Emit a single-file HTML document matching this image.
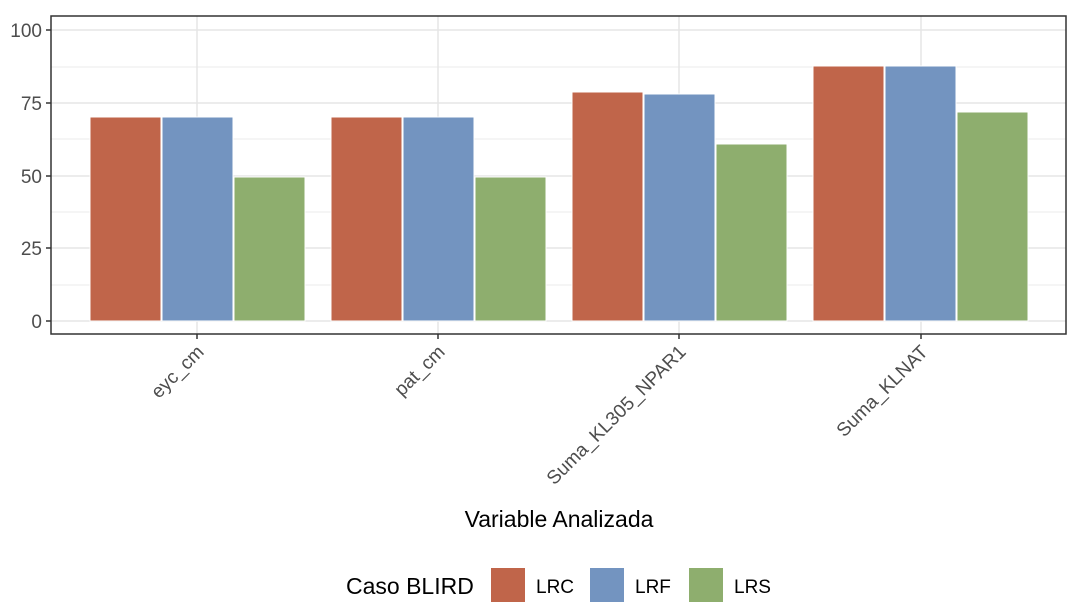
<!DOCTYPE html>
<html><head><style>body{margin:0;background:#fff}</style></head><body>
<svg width="1080" height="610" xmlns="http://www.w3.org/2000/svg" font-family="Liberation Sans, sans-serif">
<rect width="1080" height="610" fill="#fff"/>
<g stroke="#ebebeb" stroke-width="1">
<line x1="51" x2="1066" y1="285" y2="285"/><line x1="51" x2="1066" y1="212" y2="212"/>
<line x1="51" x2="1066" y1="139" y2="139"/><line x1="51" x2="1066" y1="67" y2="67"/>
</g>
<g stroke="#e5e5e5" stroke-width="1.5">
<line x1="51" x2="1066" y1="321" y2="321"/><line x1="51" x2="1066" y1="248" y2="248"/>
<line x1="51" x2="1066" y1="176" y2="176"/><line x1="51" x2="1066" y1="103" y2="103"/>
<line x1="51" x2="1066" y1="30" y2="30"/>
<line x1="197" x2="197" y1="16" y2="334"/><line x1="438" x2="438" y1="16" y2="334"/>
<line x1="679" x2="679" y1="16" y2="334"/><line x1="921" x2="921" y1="16" y2="334"/>
</g>
<g stroke="#fff" stroke-width="1">
<rect x="90" y="117" width="71" height="204" fill="#c0654a"/>
<rect x="162" y="117" width="71" height="204" fill="#7394c0"/>
<rect x="234" y="177" width="71" height="144" fill="#8eae6e"/>
<rect x="331" y="117" width="71" height="204" fill="#c0654a"/>
<rect x="403" y="117" width="71" height="204" fill="#7394c0"/>
<rect x="475" y="177" width="71" height="144" fill="#8eae6e"/>
<rect x="572" y="92" width="71" height="229" fill="#c0654a"/>
<rect x="644" y="94" width="71" height="227" fill="#7394c0"/>
<rect x="716" y="144" width="71" height="177" fill="#8eae6e"/>
<rect x="813" y="66" width="71" height="255" fill="#c0654a"/>
<rect x="885" y="66" width="71" height="255" fill="#7394c0"/>
<rect x="957" y="112" width="71" height="209" fill="#8eae6e"/>
</g>
<rect x="51" y="16" width="1015" height="318" fill="none" stroke="#333" stroke-width="1.5"/>
<g stroke="#333" stroke-width="1.5">
<line x1="46" x2="51" y1="321" y2="321"/><line x1="46" x2="51" y1="248" y2="248"/>
<line x1="46" x2="51" y1="176" y2="176"/><line x1="46" x2="51" y1="103" y2="103"/>
<line x1="46" x2="51" y1="30" y2="30"/>
<line x1="197" x2="197" y1="334" y2="339"/><line x1="438" x2="438" y1="334" y2="339"/>
<line x1="679" x2="679" y1="334" y2="339"/><line x1="921" x2="921" y1="334" y2="339"/>
</g>
<g font-size="19" fill="#4d4d4d" text-anchor="end">
<text x="42" y="328">0</text><text x="42" y="255">25</text><text x="42" y="183">50</text>
<text x="42" y="110">75</text><text x="42" y="37">100</text>
<text transform="translate(205,353) rotate(-45)">eyc_cm</text>
<text transform="translate(446,353) rotate(-45)">pat_cm</text>
<text transform="translate(687,353) rotate(-45)">Suma_KL305_NPAR1</text>
<text transform="translate(929,353) rotate(-45)">Suma_KLNAT</text>
</g>
<text x="559" y="527" font-size="23" fill="#000" text-anchor="middle">Variable Analizada</text>
<text x="346" y="594" font-size="23" fill="#000">Caso BLIRD</text>
<rect x="491" y="568" width="34" height="34" fill="#c0654a"/>
<text x="536" y="593" font-size="19" fill="#000">LRC</text>
<rect x="590" y="568" width="34" height="34" fill="#7394c0"/>
<text x="635" y="593" font-size="19" fill="#000">LRF</text>
<rect x="689" y="568" width="34" height="34" fill="#8eae6e"/>
<text x="734" y="593" font-size="19" fill="#000">LRS</text>
</svg>
</body></html>
